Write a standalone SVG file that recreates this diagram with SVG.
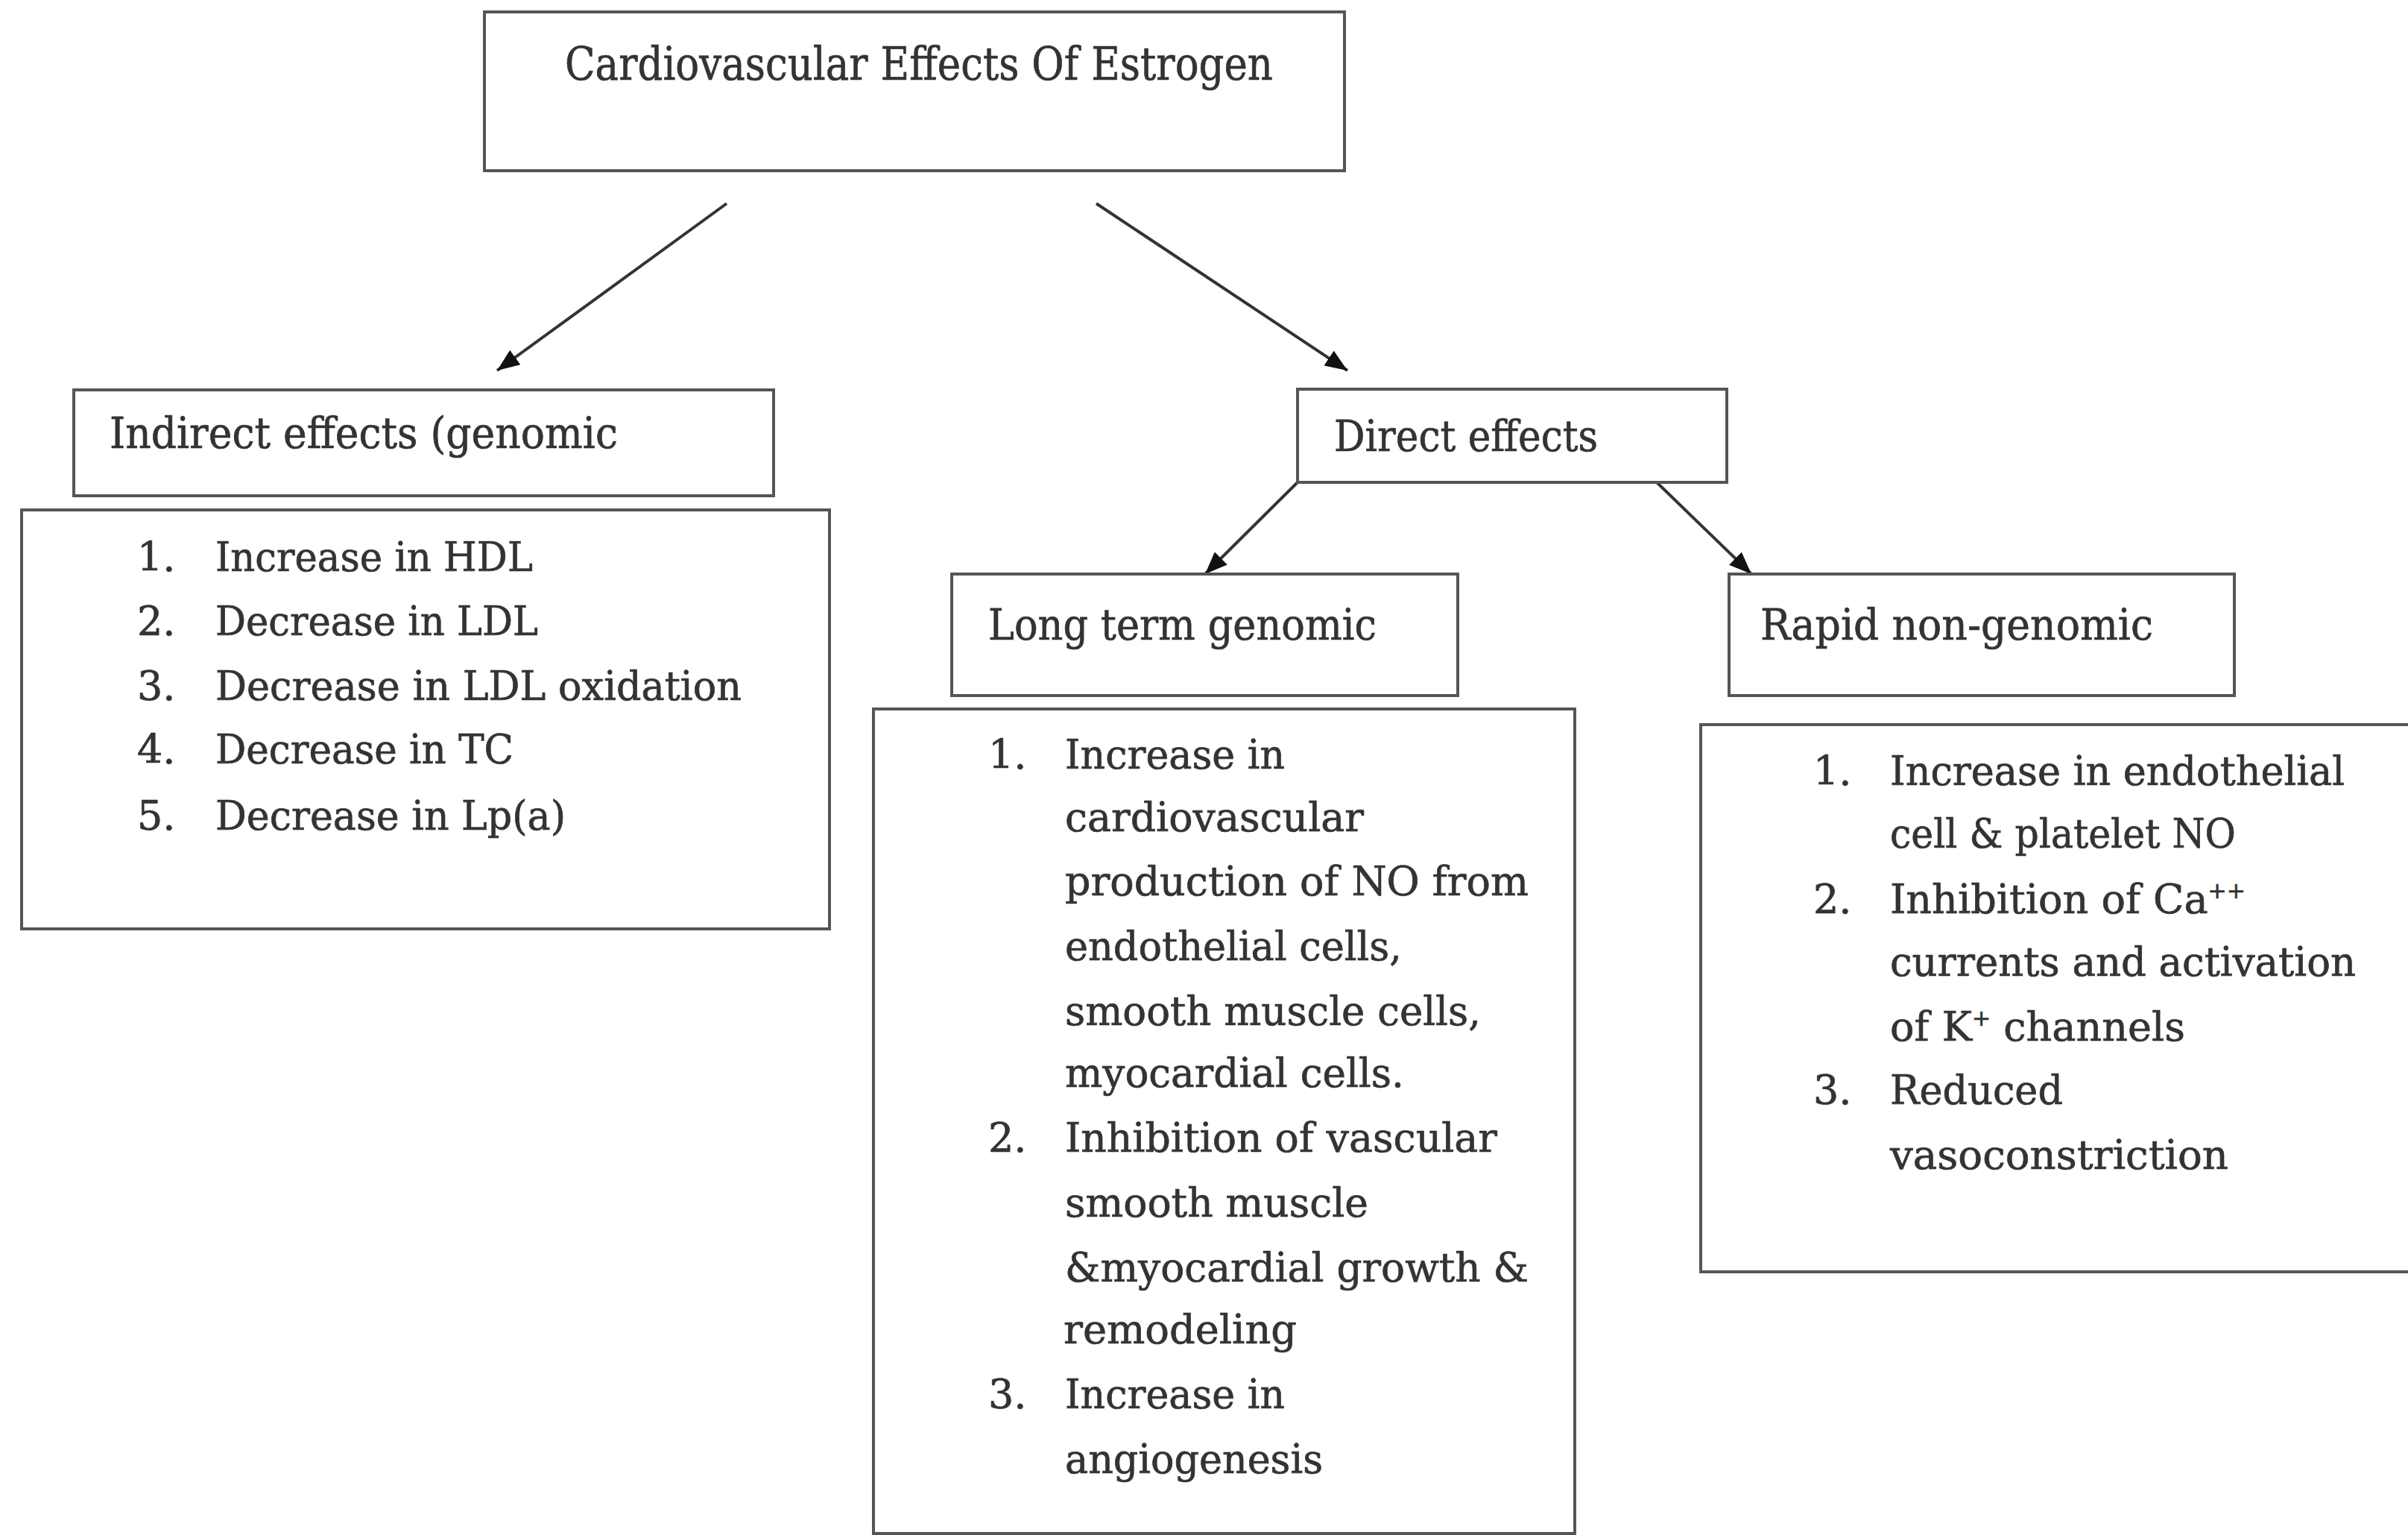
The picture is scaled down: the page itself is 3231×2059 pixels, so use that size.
<svg xmlns="http://www.w3.org/2000/svg" width="3231" height="2059" viewBox="0 0 3231 2059">
<style>
.box{fill:#fff;stroke:#555;stroke-width:4}
.t{font-family:"DejaVu Serif","Liberation Serif",serif;fill:#333;stroke:#333;stroke-width:0.7}
.title{font-size:62px}
.head{font-size:57px}
.li{font-size:54px}
.conn{stroke:#333;stroke-width:4;fill:none;marker-end:url(#ah)}
</style>
<defs>
<marker id="ah" markerUnits="userSpaceOnUse" markerWidth="32" markerHeight="24" refX="30" refY="12" orient="auto">
<path d="M0,0 L30,12 L0,24 z" fill="#111"/>
</marker>
</defs>
<rect width="3231" height="2059" fill="#fff"/>

<g id="connectors">
<line class="conn" x1="975" y1="273" x2="667" y2="497"/>
<line class="conn" x1="1471" y1="273" x2="1808" y2="497"/>
<line class="conn" x1="1741" y1="647" x2="1617" y2="770"/>
<line class="conn" x1="2223" y1="647" x2="2350" y2="770"/>
</g>

<g id="root">
<rect class="box" x="650" y="16" width="1154" height="213"/>
<text class="t title" x="758" y="107" textLength="950" lengthAdjust="spacingAndGlyphs">Cardiovascular Effects Of Estrogen</text>
</g>

<g id="indirect">
<rect class="box" x="99" y="523" width="939" height="142"/>
<text class="t head" x="147" y="601" textLength="682" lengthAdjust="spacingAndGlyphs">Indirect effects (genomic</text>
</g>

<g id="indirect-list">
<rect class="box" x="29" y="684" width="1084" height="562"/>
<g class="t li">
<text x="184" y="766">1.</text>
<text x="289" y="766" textLength="426" lengthAdjust="spacingAndGlyphs">Increase in HDL</text>
<text x="184" y="852">2.</text>
<text x="289" y="852" textLength="433" lengthAdjust="spacingAndGlyphs">Decrease in LDL</text>
<text x="184" y="939">3.</text>
<text x="289" y="939" textLength="706" lengthAdjust="spacingAndGlyphs">Decrease in LDL oxidation</text>
<text x="184" y="1024">4.</text>
<text x="289" y="1024" textLength="400" lengthAdjust="spacingAndGlyphs">Decrease in TC</text>
<text x="184" y="1113">5.</text>
<text x="289" y="1113" textLength="470" lengthAdjust="spacingAndGlyphs">Decrease in Lp(a)</text>
</g>
</g>

<g id="direct">
<rect class="box" x="1741" y="522" width="576" height="125"/>
<text class="t head" x="1790" y="605" textLength="354" lengthAdjust="spacingAndGlyphs">Direct effects</text>
</g>

<g id="long-term">
<rect class="box" x="1277" y="770" width="679" height="163"/>
<text class="t head" x="1326" y="858" textLength="521" lengthAdjust="spacingAndGlyphs">Long term genomic</text>
</g>

<g id="rapid">
<rect class="box" x="2320" y="770" width="678" height="163"/>
<text class="t head" x="2362" y="858" textLength="527" lengthAdjust="spacingAndGlyphs">Rapid non-genomic</text>
</g>

<g id="long-term-list">
<rect class="box" x="1172" y="951" width="941" height="1106"/>
<g class="t li">
<text x="1326" y="1031">1.</text>
<text x="1429" y="1031" textLength="295" lengthAdjust="spacingAndGlyphs">Increase in</text>
<text x="1429" y="1115" textLength="401" lengthAdjust="spacingAndGlyphs">cardiovascular</text>
<text x="1429" y="1201" textLength="622" lengthAdjust="spacingAndGlyphs">production of NO from</text>
<text x="1429" y="1288" textLength="452" lengthAdjust="spacingAndGlyphs">endothelial cells,</text>
<text x="1429" y="1375" textLength="558" lengthAdjust="spacingAndGlyphs">smooth muscle cells,</text>
<text x="1429" y="1458" textLength="455" lengthAdjust="spacingAndGlyphs">myocardial cells.</text>
<text x="1326" y="1545">2.</text>
<text x="1429" y="1545" textLength="580" lengthAdjust="spacingAndGlyphs">Inhibition of vascular</text>
<text x="1429" y="1632" textLength="407" lengthAdjust="spacingAndGlyphs">smooth muscle</text>
<text x="1429" y="1719" textLength="622" lengthAdjust="spacingAndGlyphs">&amp;myocardial growth &amp;</text>
<text x="1427" y="1802" textLength="313" lengthAdjust="spacingAndGlyphs">remodeling</text>
<text x="1326" y="1889">3.</text>
<text x="1429" y="1889" textLength="295" lengthAdjust="spacingAndGlyphs">Increase in</text>
<text x="1429" y="1976" textLength="346" lengthAdjust="spacingAndGlyphs">angiogenesis</text>
</g>
</g>

<g id="rapid-list">
<rect class="box" x="2282" y="972" width="1000" height="734"/>
<g class="t li">
<text x="2433" y="1053">1.</text>
<text x="2536" y="1053" textLength="610" lengthAdjust="spacingAndGlyphs">Increase in endothelial</text>
<text x="2536" y="1137" textLength="464" lengthAdjust="spacingAndGlyphs">cell &amp; platelet NO</text>
<text x="2433" y="1225">2.</text>
<text x="2536" y="1225">Inhibition of Ca<tspan font-size="30" dy="-20">++</tspan></text>
<text x="2536" y="1309" textLength="625" lengthAdjust="spacingAndGlyphs">currents and activation</text>
<text x="2536" y="1396">of K<tspan font-size="30" dy="-20">+</tspan><tspan dy="20"> channels</tspan></text>
<text x="2433" y="1481">3.</text>
<text x="2536" y="1481" textLength="232" lengthAdjust="spacingAndGlyphs">Reduced</text>
<text x="2536" y="1568" textLength="454" lengthAdjust="spacingAndGlyphs">vasoconstriction</text>
</g>
</g>
</svg>
